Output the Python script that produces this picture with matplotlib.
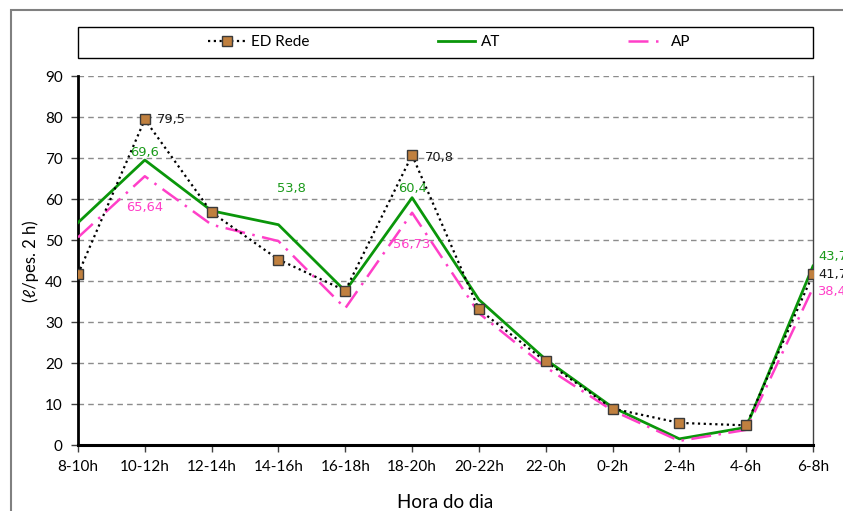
import matplotlib
matplotlib.use("Agg")
import matplotlib.pyplot as plt
from matplotlib.patches import Rectangle
from matplotlib.lines import Line2D

# Consumption per person over 2-hour periods
hours = ["8-10h", "10-12h", "12-14h", "14-16h", "16-18h", "18-20h",
         "20-22h", "22-0h", "0-2h", "2-4h", "4-6h", "6-8h"]
ed_rede = [41.7, 79.5, 56.8, 45.3, 37.7, 70.8, 33.1, 20.4, 8.9, 5.4, 4.8, 41.7]
at_vals = [54.3, 69.6, 57.2, 53.8, 37.6, 60.4, 35.5, 20.9, 9.2, 1.5, 4.3, 43.7]
ap_vals = [50.7, 65.64, 53.8, 49.8, 33.4, 56.73, 32.2, 19.0, 8.4, 1.0, 3.7, 38.4]

# (series, index, text, colour, dx px, dy px, ha)
value_labels = [
    ("ed", 1, "79,5", "#1a1a1a", 12, 0, "left"),
    ("at", 1, "69,6", "#1a9a1a", 0, 8, "center"),
    ("ap", 1, "65,64", "#ff3fc8", 0, -31, "center"),
    ("at", 3, "53,8", "#1a9a1a", 13, 36, "center"),
    ("ed", 5, "70,8", "#1a1a1a", 13, -2, "left"),
    ("at", 5, "60,4", "#1a9a1a", 0, 9, "center"),
    ("ap", 5, "56,73", "#ff3fc8", 0, -32, "center"),
    ("at", 11, "43,7", "#1a9a1a", 5, 10, "left"),
    ("ed", 11, "41,7", "#1a1a1a", 5, 0, "left"),
    ("ap", 11, "38,4", "#ff3fc8", 4, -4, "left"),
]

W, H = 843, 511
fig = plt.figure(figsize=(W / 100, H / 100), dpi=100)
fig.patch.set_facecolor("white")

left, right, top, bottom = 78, 813, 76.5, 445
ax = fig.add_axes([left / W, 1 - bottom / H, (right - left) / W, (bottom - top) / H])

x = list(range(len(hours)))
series = {"ed": ed_rede, "at": at_vals, "ap": ap_vals}

ax.plot(x, at_vals, color="#0a960a", lw=2.0, zorder=3, label="AT")
ax.plot(x, ap_vals, color="#ff3fc8", lw=1.8, linestyle=(0, (8, 3, 1, 3)),
        zorder=3, label="AP")
ax.plot(x, ed_rede, color="black", lw=1.6, linestyle=(0, (1, 1.6)),
        marker="s", markersize=7.5, markerfacecolor="#c0803f",
        markeredgecolor="#3a3a3a", markeredgewidth=1.0, zorder=4,
        label="ED Rede")

for key, i, txt, col, dx, dy, ha in value_labels:
    ax.annotate(txt, (x[i], series[key][i]), xytext=(dx, dy),
                textcoords="offset pixels", ha=ha, va="center",
                color=col, fontsize=9.4, family="DejaVu Sans",
                annotation_clip=False, zorder=6)

ax.set_xlim(0, len(hours) - 1)
ax.set_ylim(0, 90)
ax.set_yticks(range(0, 91, 10))
ax.set_xticks(x)
ax.set_xticklabels(hours)
for lbl in ax.get_xticklabels() + ax.get_yticklabels():
    lbl.set_family("Lato")
    lbl.set_fontsize(11)
ax.tick_params(axis="both", direction="out", length=5, width=1,
               color="#404040", pad=6)

for y in range(10, 91, 10):
    ax.axhline(y, color="#8c8c8c", lw=1.0, linestyle=(0, (4, 3)), zorder=1)

ax.spines["left"].set_linewidth(2)
ax.spines["bottom"].set_linewidth(2.2)
ax.spines["left"].set_color("black")
ax.spines["bottom"].set_color("black")
ax.spines["top"].set_visible(False)
ax.spines["right"].set_color("#404040")
ax.spines["right"].set_linewidth(1)

ax.set_ylabel("(ℓ/pes. 2 h)", family=["Lato", "DejaVu Sans"], fontsize=12,
              labelpad=4)
ax.set_xlabel("Hora do dia", family="Lato", fontsize=13.5, labelpad=14)

# Outer chart frame
fig.add_artist(Rectangle((10.5 / W, -0.2), 1.2, 1 - 10.5 / H + 0.2,
                         transform=fig.transFigure, fill=False,
                         edgecolor="#808080", lw=1.5))

# Legend box spanning the plot width
leg_top, leg_bot = 27, 58
fig.add_artist(Rectangle((left / W, 1 - leg_bot / H), (right - left) / W,
                         (leg_bot - leg_top) / H, transform=fig.transFigure,
                         fill=False, edgecolor="black", lw=1.0))

handles = [
    Line2D([], [], color="black", lw=1.6, linestyle=(0, (1, 1.6)), marker="s",
           markersize=6.5, markerfacecolor="#c0803f", markeredgecolor="#3a3a3a"),
    Line2D([], [], color="#0a960a", lw=2.0),
    Line2D([], [], color="#ff3fc8", lw=1.8, linestyle=(0, (8, 3, 1, 3))),
]
fig.legend(handles, ["ED Rede", "AT", "AP"], loc="center",
           bbox_to_anchor=((left + right) / 2 / W + 4 / W, 1 - (leg_top + leg_bot) / 2 / H),
           ncol=3, frameon=False, handlelength=2.4, handletextpad=0.4,
           columnspacing=8.4, prop={"family": "Lato", "size": 11})

fig.savefig("out.png", dpi=100)
